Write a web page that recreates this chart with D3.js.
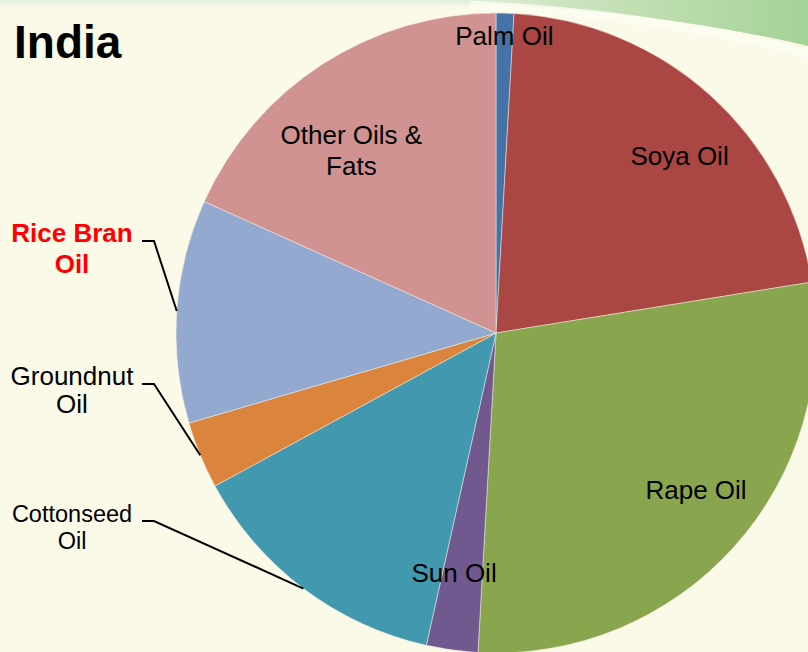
<!DOCTYPE html>
<html>
<head>
<meta charset="utf-8">
<script src="https://cdn.jsdelivr.net/npm/d3@7"></script>
<style>
  body { margin: 0; background: #fbfae9; }
  svg { display: block; font-family: "Liberation Sans", Arial, sans-serif; }
</style>
</head>
<body>
<svg id="chart"></svg>
<script>
// oil consumption shares, India (percent)
var oils   = ["Palm Oil", "Soya Oil", "Rape Oil", "Sun Oil", "Cottonseed Oil", "Groundnut Oil", "Rice Bran Oil", "Other Oils & Fats"];
var shares = [0.9, 21.6, 28.5, 2.6, 13.6, 3.4, 11.3, 18.3];
var colors = ["#4572a7", "#aa4643", "#89a54e", "#71588f", "#4198af", "#db843d", "#93a9cf", "#d19392"];

var W = 808, H = 652;
var cx = 496, cy = 333, R = 320;

var svg = d3.select("#chart").attr("width", W).attr("height", H);
var defs = svg.append("defs");

// background + green swoosh at the top
svg.append("rect").attr("width", W).attr("height", H).attr("fill", "#fbfae9");

var topGrad = defs.append("linearGradient").attr("id", "topg")
  .attr("x1", 0).attr("y1", 0).attr("x2", 0).attr("y2", 1);
topGrad.append("stop").attr("offset", 0).attr("stop-color", "#e3efe2");
topGrad.append("stop").attr("offset", 1).attr("stop-color", "#fbfae9").attr("stop-opacity", 0);
svg.append("rect").attr("width", W).attr("height", 12).attr("fill", "url(#topg)");

var swGrad = defs.append("linearGradient").attr("id", "swg")
  .attr("x1", 0).attr("y1", 0).attr("x2", 1).attr("y2", 0);
swGrad.append("stop").attr("offset", 0).attr("stop-color", "#e6f0de").attr("stop-opacity", 0);
swGrad.append("stop").attr("offset", 0.4).attr("stop-color", "#cfe5c2");
swGrad.append("stop").attr("offset", 1).attr("stop-color", "#a5d296");

svg.append("path")
  .attr("d", "M380,0 C540,4 680,16 808,46 L808,0 Z")
  .attr("fill", "url(#swg)");
svg.append("path")
  .attr("d", "M470,5 C600,12 700,26 808,54")
  .attr("fill", "none")
  .attr("stroke", "#fdfdf3")
  .attr("stroke-width", 9)
  .attr("stroke-opacity", 0.8);

// pie
var pie = d3.pie().sort(null).value(d => d);
var arcs = pie(shares);
var arc = d3.arc().innerRadius(0).outerRadius(R);

var g = svg.append("g").attr("transform", "translate(" + cx + "," + cy + ")");

g.selectAll("path.slice")
  .data(arcs)
  .enter().append("path")
  .attr("class", "slice")
  .attr("d", arc)
  .attr("fill", (d, i) => colors[i])
  .attr("stroke", "#f4f1e4")
  .attr("stroke-width", 0.5);

// labels inside the slices
var inside = {
  "Palm Oil": { r: 297, lines: ["Palm Oil"] },
  "Soya Oil": { r: 255, lines: ["Soya Oil"] },
  "Rape Oil": { r: 254, lines: ["Rape Oil"] },
  "Sun Oil": { r: 244, lines: ["Sun Oil"] },
  "Other Oils & Fats": { r: 233, lines: ["Other Oils &", "Fats"] }
};
var adj = { "Soya Oil": 4, "Rape Oil": -4, "Sun Oil": 2, "Other Oils & Fats": -5.5 };

arcs.forEach(function(d, i) {
  var lab = inside[oils[i]];
  if (!lab) return;
  var a = (d.startAngle + d.endAngle) / 2 + (adj[oils[i]] || 0) * Math.PI / 180;
  var x = Math.sin(a) * lab.r, y = -Math.cos(a) * lab.r;
  var t = g.append("text")
    .attr("x", x).attr("y", y)
    .attr("text-anchor", "middle")
    .attr("fill", "#000")
    .style("font-size", "26px");
  lab.lines.forEach(function(s, k) {
    t.append("tspan")
      .attr("x", x)
      .attr("dy", k == 0 ? (9 - (lab.lines.length - 1) * 15.5) : 31)
      .text(s);
  });
});

// outside labels with leader lines (left side)
var outside = {
  "Rice Bran Oil": { y: 242, lines: ["Rice Bran", "Oil"], color: "#ff0000", bold: true, size: 26, gap: 31 },
  "Groundnut Oil": { y: 385, lines: ["Groundnut", "Oil"], color: "#000", bold: false, size: 26, gap: 28 },
  "Cottonseed Oil": { y: 522, lines: ["Cottonseed", "Oil"], color: "#000", bold: false, size: 23.5, gap: 27 }
};

arcs.forEach(function(d, i) {
  var lab = outside[oils[i]];
  if (!lab) return;
  var a = (d.startAngle + d.endAngle) / 2;
  var ex = cx + Math.sin(a) * R, ey = cy - Math.cos(a) * R;
  svg.append("path")
    .attr("d", "M142," + (lab.y - 1) + " L154," + (lab.y - 1) + " L" + ex + "," + ey)
    .attr("fill", "none")
    .attr("stroke", "#000")
    .attr("stroke-width", 2);
  var t = svg.append("text")
    .attr("text-anchor", "middle")
    .attr("fill", lab.color)
    .style("font-size", lab.size + "px")
    .style("font-weight", lab.bold ? "bold" : "normal");
  lab.lines.forEach(function(s, k) {
    t.append("tspan")
      .attr("x", 72)
      .attr("y", lab.y + k * lab.gap)
      .text(s);
  });
});

// title
svg.append("text")
  .attr("x", 14).attr("y", 58)
  .attr("fill", "#000")
  .style("font-size", "46px")
  .style("font-weight", "bold")
  .text("India");
</script>
</body>
</html>
